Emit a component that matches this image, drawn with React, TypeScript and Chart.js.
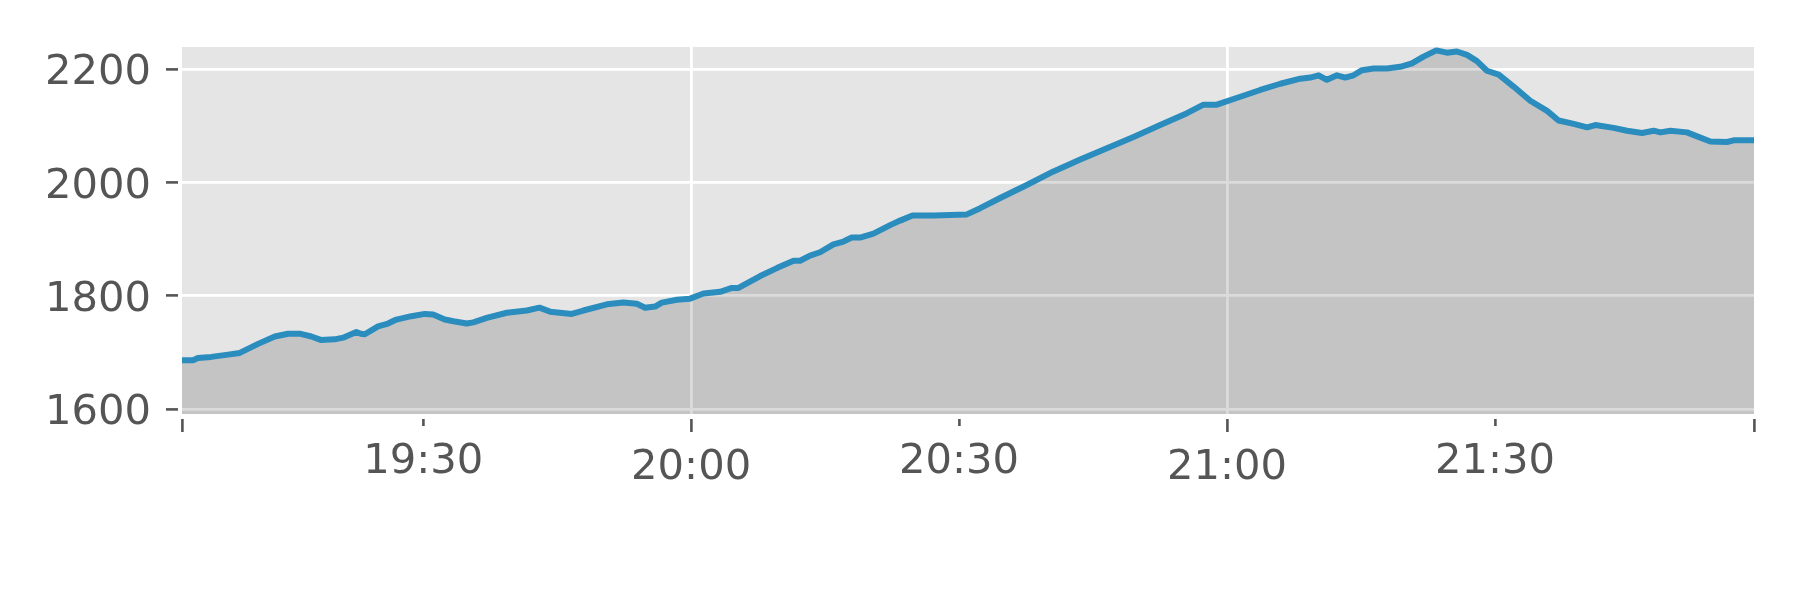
import React, { useEffect, useRef } from 'react';
import { Chart, registerables } from 'chart.js';

Chart.register(...registerables);

// Time of day (HH:MM:SS) and elevation
const times = [
  '19:03:00', '19:04:14', '19:04:47', '19:06:17', '19:08:09', '19:09:28', '19:11:31', '19:13:23',
  '19:14:52', '19:16:11', '19:17:29', '19:18:32', '19:20:06', '19:21:02', '19:22:31', '19:23:01',
  '19:23:28', '19:24:57', '19:26:04', '19:27:00', '19:28:41', '19:30:11', '19:31:07', '19:32:25',
  '19:33:23', '19:34:53', '19:35:37', '19:37:07', '19:39:22', '19:41:36', '19:43:01', '19:44:13',
  '19:46:38', '19:47:56', '19:50:34', '19:52:25', '19:53:55', '19:54:51', '19:55:58', '19:56:43',
  '19:58:24', '19:59:53', '20:01:23', '20:03:15', '20:04:34', '20:05:18', '20:07:44', '20:09:36',
  '20:11:28', '20:12:12', '20:13:19', '20:14:26', '20:15:56', '20:17:03', '20:17:59', '20:18:55',
  '20:20:25', '20:22:17', '20:23:24', '20:24:47', '20:27:08', '20:29:00', '20:30:52', '20:32:22',
  '20:34:36', '20:37:35', '20:40:34', '20:43:34', '20:46:33', '20:49:32', '20:52:31', '20:55:31',
  '20:57:22', '20:58:52', '21:01:29', '21:03:43', '21:05:58', '21:08:12', '21:09:19', '21:10:15',
  '21:11:11', '21:12:19', '21:13:14', '21:14:10', '21:15:07', '21:16:25', '21:17:54', '21:19:23',
  '21:20:42', '21:22:00', '21:23:26', '21:24:37', '21:25:44', '21:26:52', '21:27:59', '21:29:06',
  '21:30:25', '21:32:05', '21:33:57', '21:35:50', '21:37:07', '21:38:49', '21:40:19', '21:41:14',
  '21:43:17', '21:44:47', '21:46:28', '21:47:46', '21:48:31', '21:49:38', '21:51:30', '21:52:38',
  '21:54:07', '21:55:59', '21:56:43', '21:59:00',
];

const elevation = [
  1686, 1686, 1690, 1692, 1696, 1699, 1715, 1728,
  1733, 1733, 1728, 1722, 1723, 1726, 1736, 1733,
  1732, 1746, 1751, 1758, 1764, 1768, 1767, 1758,
  1755, 1751, 1753, 1761, 1770, 1774, 1779, 1772,
  1768, 1774, 1785, 1788, 1786, 1779, 1781, 1788,
  1793, 1795, 1804, 1807, 1814, 1814, 1835, 1849,
  1862, 1862, 1871, 1877, 1891, 1896, 1903, 1903,
  1910, 1925, 1933, 1942, 1942, 1943, 1944, 1955,
  1973, 1996, 2020, 2041, 2061, 2081, 2102, 2123,
  2138, 2138, 2152, 2164, 2175, 2184, 2186, 2190,
  2182, 2190, 2186, 2190, 2199, 2202, 2202, 2205,
  2211, 2223, 2234, 2230, 2232, 2226, 2215, 2198,
  2191, 2170, 2145, 2127, 2110, 2104, 2098, 2102,
  2097, 2092, 2088, 2092, 2089, 2092, 2089, 2082,
  2073, 2072, 2075, 2075,
];

const xRange = ['19:03:00', '21:59:00'];
const xTickLabels = ['19:30', '20:00', '20:30', '21:00', '21:30'];
const xMajorLabels = ['20:00', '21:00'];
const yTicks = [1600, 1800, 2000, 2200];
const yRange = [1591, 2240];

function toMin(s: string): number {
  const [h, m, sec] = s.split(':').map(Number);
  return h * 60 + m + (sec || 0) / 60;
}

function fmt(v: number): string {
  const h = Math.floor(v / 60 + 1e-9);
  const m = Math.round(v - h * 60);
  return `${h}:${String(m).padStart(2, '0')}`;
}

const FONT = 'DejaVu Sans';
const TICK = '#555555';

export default function App() {
  const ref = useRef<HTMLCanvasElement>(null);

  useEffect(() => {
    const xMin = toMin(xRange[0]);
    const xMax = toMin(xRange[1]);
    const labelled = xTickLabels.map(toMin);
    const major = xMajorLabels.map(toMin);
    const xTickValues = [xMin, ...labelled, xMax];
    const near = (a: number, b: number) => Math.abs(a - b) < 1e-6;
    const isMajor = (v: number) => major.some((m) => near(m, v));
    const isEdge = (v: number) => near(v, xMin) || near(v, xMax);

    const bg = {
      id: 'bg',
      beforeDraw(chart: any) {
        const { ctx, chartArea: a } = chart;
        ctx.save();
        ctx.fillStyle = '#ffffff';
        ctx.fillRect(0, 0, chart.width, chart.height);
        ctx.fillStyle = '#e5e5e5';
        ctx.fillRect(a.left, a.top, a.right - a.left, a.bottom - a.top);
        ctx.restore();
      },
    };

    const chart = new Chart(ref.current as HTMLCanvasElement, {
      type: 'line',
      data: {
        datasets: [
          {
            data: times.map((t, i) => ({ x: toMin(t), y: elevation[i] })),
            borderColor: '#2b8cbe',
            borderWidth: 6,
            borderJoinStyle: 'round',
            backgroundColor: 'rgba(0,0,0,0.14)',
            fill: 'start',
            pointRadius: 0,
            tension: 0,
          },
        ],
      },
      options: {
        animation: false,
        responsive: false,
        events: [],
        layout: { padding: { left: 0, right: 46, top: 47, bottom: 0 } },
        plugins: { legend: { display: false }, tooltip: { enabled: false } },
        scales: {
          x: {
            type: 'linear',
            min: xMin,
            max: xMax,
            afterBuildTicks: (s: any) => {
              s.ticks = xTickValues.map((v) => ({ value: v }));
            },
            afterFit: (s: any) => {
              s.height = 186;
            },
            border: { display: false },
            grid: {
              color: (c: any) => (c.tick && isMajor(c.tick.value) ? '#ffffff' : 'rgba(0,0,0,0)'),
              lineWidth: 2.8,
              tickLength: 18,
              tickColor: TICK,
              tickWidth: 2.6,
              tickBorderDash: (c: any) =>
                c.tick && !isMajor(c.tick.value) && !isEdge(c.tick.value) ? [0, 5, 7, 100] : [0, 5, 13, 100],
            },
            ticks: {
              autoSkip: false,
              maxRotation: 0,
              minRotation: 0,
              padding: 0,
              color: TICK,
              callback: (v: any) => (isEdge(Number(v)) ? '' : fmt(Number(v))),
              font: (c: any) => ({
                family: FONT,
                size: 41.67,
                lineHeight: c.tick && isMajor(c.tick.value) ? '72px' : '60px',
              }),
            },
          },
          y: {
            type: 'linear',
            min: yRange[0],
            max: yRange[1],
            afterBuildTicks: (s: any) => {
              s.ticks = yTicks.map((v) => ({ value: v }));
            },
            afterFit: (s: any) => {
              s.width = 182;
            },
            border: { display: false },
            grid: {
              color: '#ffffff',
              lineWidth: 2.8,
              tickLength: 16,
              tickColor: TICK,
              tickWidth: 2.6,
              tickBorderDash: [12, 100],
            },
            ticks: {
              padding: 15,
              labelOffset: 4,
              color: TICK,
              font: { family: FONT, size: 41.67 },
              callback: (v: any) => String(v),
            },
          },
        },
      },
      plugins: [bg],
    } as any);

    return () => chart.destroy();
  }, []);

  return (
    <div style={{ position: 'absolute', left: 0, top: 0, width: 1800, height: 600, background: '#ffffff' }}>
      <canvas ref={ref} width={1800} height={600} style={{ display: 'block' }} />
    </div>
  );
}
